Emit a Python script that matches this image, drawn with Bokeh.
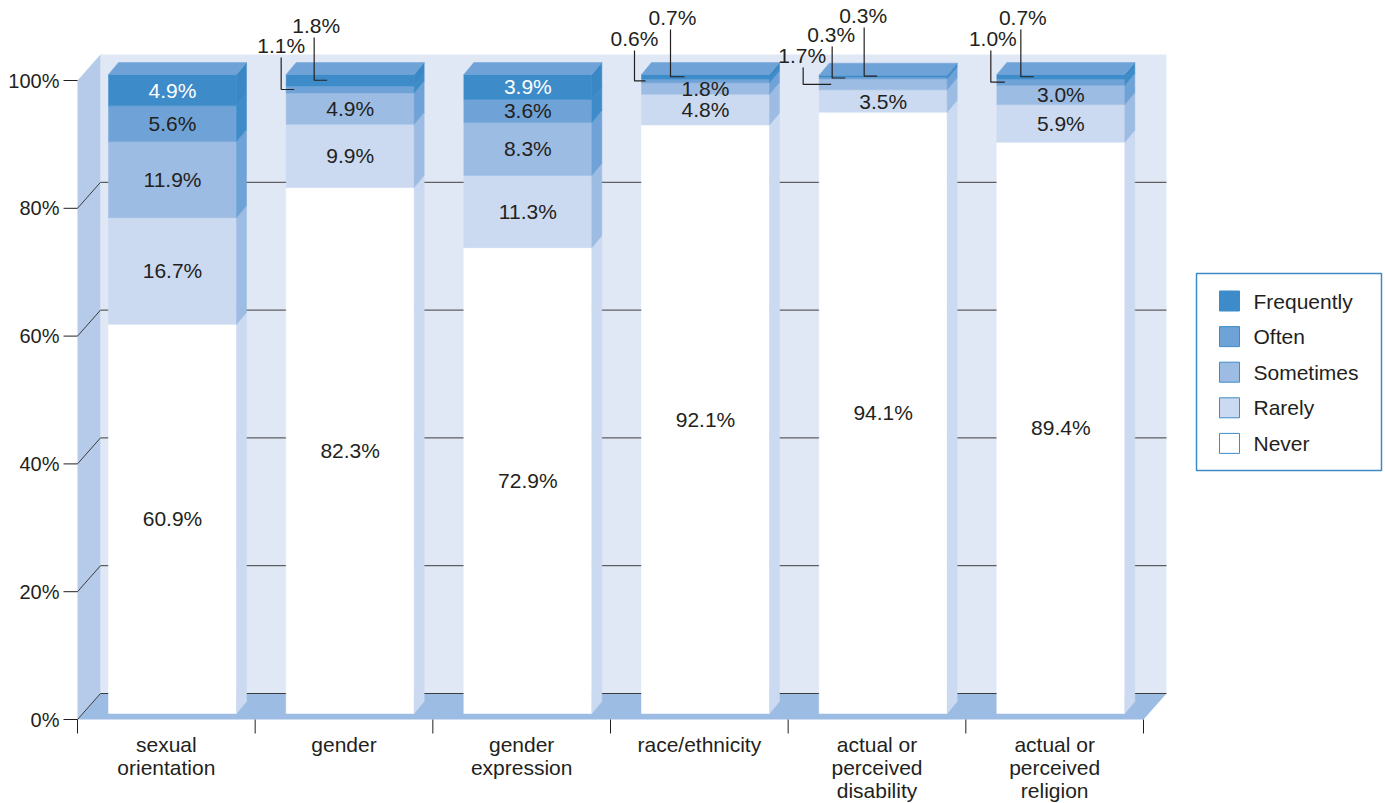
from bokeh.plotting import figure
from bokeh.models import Range1d, ColumnDataSource
from bokeh.core.properties import value
from bokeh.embed import file_html
from bokeh.resources import INLINE

# ---------------- data ----------------
categories = ["sexual\norientation", "gender", "gender\nexpression", "race/ethnicity",
              "actual or\nperceived\ndisability", "actual or\nperceived\nreligion"]
series_names = ["Never", "Rarely", "Sometimes", "Often", "Frequently"]
never = [60.9, 82.3, 72.9, 92.1, 94.1, 89.4]
rarely = [16.7, 9.9, 11.3, 4.8, 3.5, 5.9]
sometimes = [11.9, 4.9, 8.3, 1.8, 1.7, 3.0]
often = [5.6, 1.1, 3.6, 0.6, 0.3, 1.0]
frequently = [4.9, 1.8, 3.9, 0.7, 0.3, 0.7]
y_ticks = [0, 20, 40, 60, 80, 100]
y_tick_labels = ["0%", "20%", "40%", "60%", "80%", "100%"]

series_values = {"Never": never, "Rarely": rarely, "Sometimes": sometimes,
                 "Often": often, "Frequently": frequently}

# ---------------- styles ----------------
face_colors = {"Never": "#ffffff", "Rarely": "#cbdaf0", "Sometimes": "#9dbce3",
               "Often": "#6fa2d6", "Frequently": "#3d8cc9"}
side_colors = {"Never": "#cbdaf0", "Rarely": "#9dbce3", "Sometimes": "#6fa2d6",
               "Often": "#3d8cc9", "Frequently": "#3a87c5"}
top_color = "#6fa2d6"
label_colors = {"Never": "#231f20", "Rarely": "#231f20", "Sometimes": "#231f20",
                "Often": "#231f20", "Frequently": "#ffffff"}
TEXT = "#231f20"
FONT = value("Liberation Sans")

# callout layout: (bar, series, text dx from bar front-left px, text page y px,
#                  leader x dx px, leader end dx px)
callouts = [
    (1, "Frequently", 30, 25, 28, 41),
    (1, "Often", -5, 45, -5, 8),
    (3, "Frequently", 31, 17, 29, 43),
    (3, "Often", -7, 38, -7, 4),
    (4, "Frequently", 44, 15, 45, 58),
    (4, "Often", 12, 34, 13, 26),
    (4, "Sometimes", -17, 55, -16, 12),
    (5, "Frequently", 26, 17, 24, 37),
    (5, "Often", -4, 38, -6, 8),
]

# ---------------- geometry (page pixels -> data units) ----------------
W, H = 1384, 802
PAGE = 0                              # canvas origin on the page
AX_X0, AX_Y0 = 77.0, 719.0            # page pixel of x=0 / y=0
SX = (1143.0 - 77.0) / len(categories)  # px per category slot
SY = 6.39                             # px per percent


def dx(px):
    return px / SX


def dy(px):
    return px / SY


def X(page_x):
    return (page_x - AX_X0) / SX


def Y(page_y):
    return (AX_Y0 - page_y) / SY


NC = len(categories)
WDX, WDY = dx(23), dy(26)     # wall depth
BAR_OFF, BAR_W = dx(31), dx(128)
BAR_BASE = dy(6)
BDX, BDY = dx(10), dy(12)     # bar depth

p = figure(width=W, height=H, output_backend="svg", toolbar_location=None,
           x_range=Range1d(X(PAGE), X(PAGE + W)),
           y_range=Range1d(Y(PAGE + H), Y(PAGE)),
           x_axis_type=None, y_axis_type=None, title=None,
           min_border=0, outline_line_color=None)
p.grid.visible = False
p.background_fill_color = "#ffffff"
p.border_fill_color = "#ffffff"

# ---------------- walls and floor ----------------
p.patches(xs=[[WDX, NC + WDX, NC + WDX, WDX]],
          ys=[[WDY, WDY, 100 + WDY, 100 + WDY]],
          fill_color="#e1e8f5", line_color=None)
p.patches(xs=[[0, 0, WDX, WDX]], ys=[[0, 100, 100 + WDY, WDY]],
          fill_color="#b5cbe9", line_color=None)
p.patches(xs=[[0, WDX, NC + WDX, NC]], ys=[[0, WDY, WDY, 0]],
          fill_color="#9dbce3", line_color=None)

grid_vals = [v for v in y_ticks if v < 100]
p.multi_line(xs=[[0, WDX, NC + WDX] for v in grid_vals],
             ys=[[v, v + WDY, v + WDY] for v in grid_vals],
             line_color="#3c3c3c", line_width=1)

# ---------------- bars ----------------
fx, fy, fc = [], [], []
sx, sy, sc = [], [], []
tx, ty, tc = [], [], []
lab_x, lab_y, lab_t, lab_c = [], [], [], []
seg_center = {}
callout_keys = {(c[0], c[1]) for c in callouts}

for i in range(NC):
    xl = i + BAR_OFF
    xr = xl + BAR_W
    cum = BAR_BASE
    for s in series_names:
        v = series_values[s][i]
        y0, y1 = cum, cum + v
        fx.append([xl, xr, xr, xl]); fy.append([y0, y0, y1, y1]); fc.append(face_colors[s])
        sx.append([xr, xr + BDX, xr + BDX, xr]); sy.append([y0, y0 + BDY, y1 + BDY, y1])
        sc.append(side_colors[s])
        seg_center[(i, s)] = (y0 + y1) / 2
        if (i, s) not in callout_keys:
            lab_x.append((xl + xr) / 2); lab_y.append((y0 + y1) / 2)
            lab_t.append(f"{v:.1f}%"); lab_c.append(label_colors[s])
        cum = y1
    tx.append([xl, xr, xr + BDX, xl + BDX]); ty.append([cum, cum, cum + BDY, cum + BDY])
    tc.append(top_color)

p.patches(xs="xs", ys="ys", fill_color="c", line_color="c", line_width=0.5,
          source=ColumnDataSource(dict(xs=fx, ys=fy, c=fc)))
p.patches(xs="xs", ys="ys", fill_color="c", line_color="c", line_width=0.5,
          source=ColumnDataSource(dict(xs=sx, ys=sy, c=sc)))
p.patches(xs="xs", ys="ys", fill_color="c", line_color="c", line_width=0.5,
          source=ColumnDataSource(dict(xs=tx, ys=ty, c=tc)))

p.text(x="x", y="y", text="t", text_color="c",
       source=ColumnDataSource(dict(x=lab_x, y=lab_y, t=lab_t, c=lab_c)),
       text_font=FONT, text_font_size="21px", text_align="center",
       text_baseline="middle")

# ---------------- callouts ----------------
cx, cy, ct = [], [], []
lxs, lys = [], []
for (i, s, tdx, ty_px, ldx, edx) in callouts:
    xl = i + BAR_OFF
    v = series_values[s][i]
    yc = seg_center[(i, s)]
    cx.append(xl + dx(tdx)); cy.append(Y(ty_px)); ct.append(f"{v:.1f}%")
    lxs.append([xl + dx(ldx), xl + dx(ldx), xl + dx(edx)])
    lys.append([Y(ty_px + 12), yc, yc])
p.multi_line(xs=lxs, ys=lys, line_color=TEXT, line_width=1.2)
p.text(x=cx, y=cy, text=ct, text_color=TEXT, text_font=FONT,
       text_font_size="21px", text_align="center", text_baseline="middle")

# ---------------- axes (drawn by hand, front plane) ----------------
p.multi_line(xs=[[X(63), 0] for v in y_ticks], ys=[[v, v] for v in y_ticks],
             line_color=TEXT, line_width=1)
p.text(x=[X(59)] * len(y_ticks), y=y_ticks, text=y_tick_labels, text_color=TEXT,
       text_font=FONT, text_font_size="20px", text_align="right",
       text_baseline="middle")

p.multi_line(xs=[[k, k] for k in range(NC + 1)],
             ys=[[0, Y(733)] for k in range(NC + 1)],
             line_color=TEXT, line_width=1)
cat_x, cat_y, cat_t = [], [], []
for i, c in enumerate(categories):
    for k, line in enumerate(c.split("\n")):
        cat_x.append(i + 0.5); cat_y.append(Y(744 + 23 * k)); cat_t.append(line)
p.text(x=cat_x, y=cat_y, text=cat_t, text_color=TEXT, text_font=FONT,
       text_font_size="21px", text_align="center", text_baseline="middle")

# ---------------- legend ----------------
p.quad(left=[X(1196)], right=[X(1381)], top=[Y(273)], bottom=[Y(470)],
       fill_color="#ffffff", line_color="#3d8cc9", line_width=1.5)
leg_order = series_names[::-1]
leg_y = [Y(300.5 + 35.6 * k) for k in range(len(leg_order))]
p.rect(x=[X(1229)] * len(leg_order), y=leg_y, width=dx(20), height=dy(20),
       fill_color=[face_colors[s] for s in leg_order], line_color="#3d8cc9",
       line_width=1)
p.text(x=[X(1253)] * len(leg_order), y=leg_y, text=leg_order, text_color=TEXT,
       text_font=FONT, text_font_size="21px", text_align="left",
       text_baseline="middle")

open("out.html", "w").write(file_html(p, INLINE))
